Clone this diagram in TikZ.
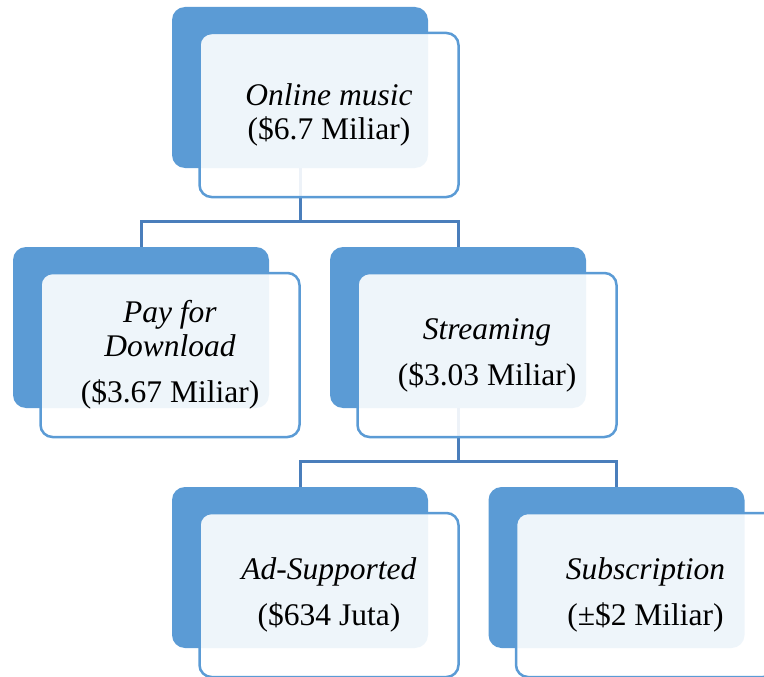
\documentclass[tikz,border=0pt]{standalone}
\usepackage{fontspec}
\setmainfont{Liberation Serif}
\usepackage{tikz}
\definecolor{boxblue}{HTML}{5B9BD5}
\definecolor{linkblue}{HTML}{4A7EBB}

\begin{document}
\begin{tikzpicture}[
    x=1pt, y=-1pt,
    back/.style={rectangle, fill=boxblue, minimum width=256pt, minimum height=161pt, inner sep=0pt, rounded corners=13pt},
    front/.style={rectangle, draw=boxblue, line width=2.5pt, fill=white, fill opacity=0.9, text opacity=1, minimum width=259pt, minimum height=164pt, inner sep=0pt, align=center, rounded corners=12pt, font=\fontsize{31.5}{34}\selectfont, execute at begin node={\rule{0pt}{29pt}}},
    link/.style={draw=linkblue, line width=3pt}
]
\useasboundingbox (0,0) rectangle (764,677);

\node[back] (online-back) at (300,87.5) {};
\node[back] (download-back) at (141,327.5) {};
\node[back] (streaming-back) at (458,327.5) {};
\node[back] (adsupp-back) at (300,567.5) {};
\node[back] (subscr-back) at (616.5,567.5) {};

\draw[link] (online-back.south) -- ++(0,53) -| (download-back.north);
\draw[link] (online-back.south) -- ++(0,53) -| (streaming-back.north);
\draw[link] (streaming-back.south) -- ++(0,53) -| (adsupp-back.north);
\draw[link] (streaming-back.south) -- ++(0,53) -| (subscr-back.north);

\node[front] (online) at ([shift={(29,27.5)}]online-back.center) {\textit{Online music}\\(\$6.7 Miliar)};
\node[front] (download) at ([shift={(29,27.5)}]download-back.center) {\textit{Pay for}\\\textit{Download}\\[12pt](\$3.67 Miliar)};
\node[front] (streaming) at ([shift={(29,27.5)}]streaming-back.center) {\textit{Streaming}\\[12pt](\$3.03 Miliar)};
\node[front] (adsupp) at ([shift={(29,27.5)}]adsupp-back.center) {\textit{Ad-Supported}\\[12pt](\$634 Juta)};
\node[front] (subscr) at ([shift={(29,27.5)}]subscr-back.center) {\textit{Subscription}\\[12pt](±\$2 Miliar)};
\end{tikzpicture}
\end{document}
